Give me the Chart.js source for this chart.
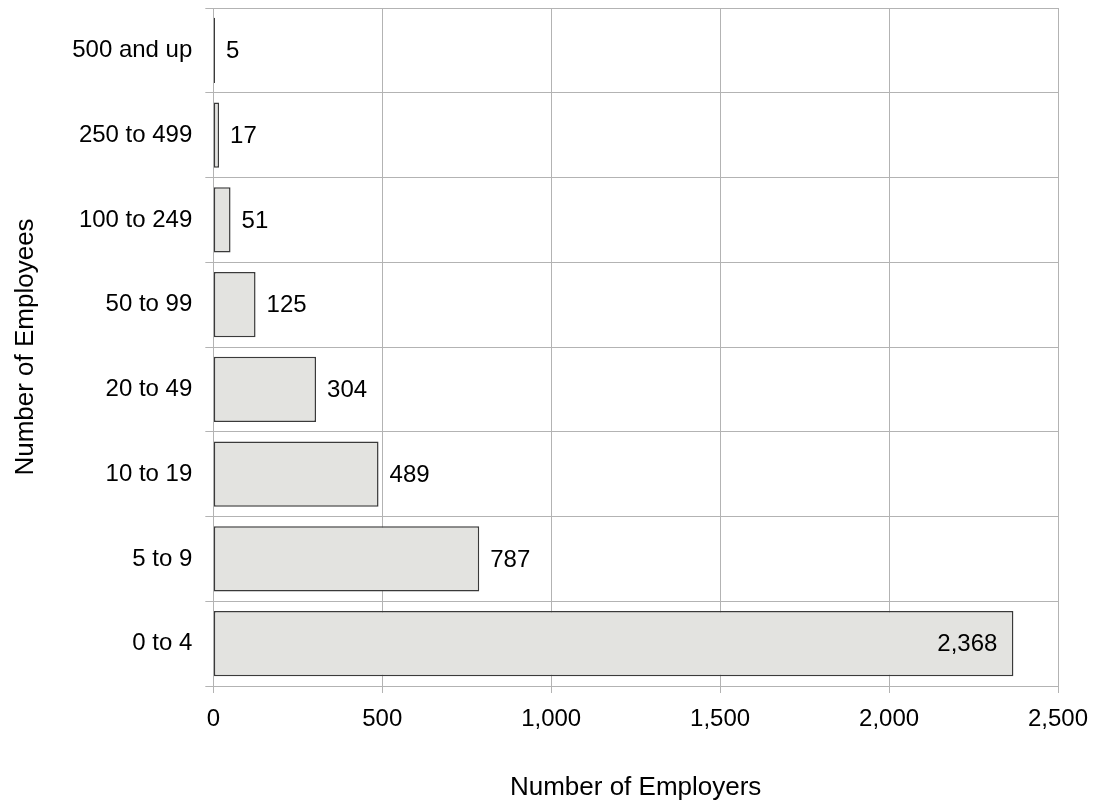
<!DOCTYPE html>
<html>
<head>
<meta charset="utf-8">
<script src="https://cdn.jsdelivr.net/npm/chart.js@4"></script>
<style>
  html, body { margin: 0; padding: 0; background: #fff; }
  #wrap { width: 1106px; height: 803px; }
</style>
</head>
<body>
<div id="wrap"><canvas id="chart" width="1106" height="803"></canvas></div>
<script>
const sizeLabels = ['500 and up', '250 to 499', '100 to 249', '50 to 99', '20 to 49', '10 to 19', '5 to 9', '0 to 4'];
const employers = [5, 17, 51, 125, 304, 489, 787, 2368];
const xTicks = [0, 500, 1000, 1500, 2000, 2500];

const fontName = '"Liberation Sans", Arial, sans-serif';

// value labels next to each bar, the biggest one sits inside
const valueLabels = {
    id: 'valueLabels',
    afterDatasetsDraw(chart) {
        const ctx = chart.ctx;
        const meta = chart.getDatasetMeta(0);
        ctx.save();
        ctx.font = '24px ' + fontName;
        ctx.fillStyle = '#000';
        ctx.textBaseline = 'middle';
        meta.data.forEach((bar, i) => {
            const v = employers[i];
            const txt = v.toLocaleString('en-US');
            if (v > 2000) {
                ctx.textAlign = 'right';
                ctx.fillText(txt, bar.x - 16, bar.y + 1);
            } else {
                ctx.textAlign = 'left';
                ctx.fillText(txt, bar.x + 11, bar.y + 1);
            }
        });
        ctx.restore();
    }
};

new Chart(document.getElementById('chart'), {
    type: 'bar',
    data: {
        labels: sizeLabels,
        datasets: [{
            data: employers,
            backgroundColor: '#e3e3e0',
            borderColor: '#3a3a3a',
            borderWidth: 1.5,
            borderSkipped: false,
            barPercentage: 0.77,
            categoryPercentage: 1
        }]
    },
    options: {
        indexAxis: 'y',
        responsive: false,
        animation: false,
        layout: { padding: { top: 8, right: 48, left: 0, bottom: 0 } },
        plugins: {
            legend: { display: false },
            tooltip: { enabled: false }
        },
        scales: {
            x: {
                min: 0,
                max: 2500,
                afterBuildTicks: axis => { axis.ticks = xTicks.map(v => ({ value: v })); },
                grid: { color: '#b3b3b3', lineWidth: 1, tickLength: 7 },
                border: { color: '#b3b3b3' },
                ticks: {
                    color: '#000',
                    font: { family: fontName, size: 24 },
                    padding: 12,
                    maxRotation: 0,
                    callback: v => v.toLocaleString('en-US')
                },
                title: {
                    display: true,
                    text: 'Number of Employers',
                    color: '#000',
                    font: { family: fontName, size: 26 },
                    padding: { top: 26, bottom: 0 }
                }
            },
            y: {
                offset: true,
                afterFit: axis => { axis.paddingTop = 0; axis.paddingBottom = 0; },
                grid: { color: '#b3b3b3', lineWidth: 1, offset: true, tickLength: 8 },
                border: { color: '#b3b3b3' },
                ticks: {
                    color: '#000',
                    font: { family: fontName, size: 24 },
                    padding: 13
                },
                title: {
                    display: true,
                    text: 'Number of Employees',
                    color: '#000',
                    font: { family: fontName, size: 26 },
                    padding: { top: 10, bottom: 18 }
                }
            }
        }
    },
    plugins: [valueLabels]
});
</script>
</body>
</html>
